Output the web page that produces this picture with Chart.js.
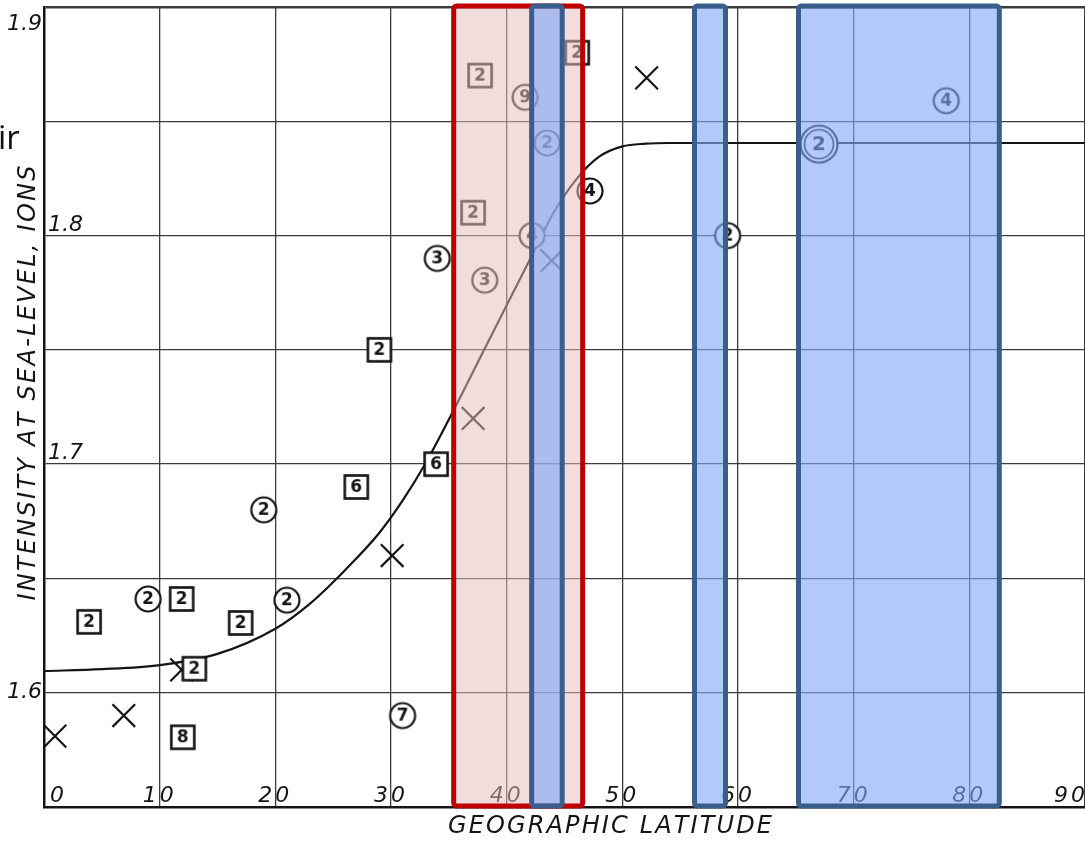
<!DOCTYPE html>
<html><head><meta charset="utf-8">
<script src="https://cdn.jsdelivr.net/npm/chart.js@4/dist/chart.umd.min.js"></script>
<style>html,body{margin:0;padding:0;background:#fff;overflow:hidden}#wrap{position:relative;width:1085px;height:842px}</style>
</head><body><div id="wrap"><canvas id="c"></canvas></div>
<script>
// ---- data ----
const xTicks = [0, 10, 20, 30, 40, 50, 60, 70, 80, 90];
const xTickLabels = ['0', '10', '20', '30', '40', '50', '60', '70', '80', '90'];
const yTicks = [1.6, 1.7, 1.8, 1.9];
const yTickLabels = ['1.6', '1.7', '1.8', '1.9'];

const curveLat = [0, 5, 10, 15, 20, 23, 26, 29, 31, 33, 35, 38, 40, 42, 44, 46, 48, 50, 52, 54, 60, 70, 80, 90];
const curveInt = [1.6095, 1.6103, 1.6121, 1.6170, 1.6280, 1.6390, 1.6535, 1.6700, 1.6840, 1.7005, 1.7195, 1.7495, 1.7695, 1.7895, 1.8095, 1.8245, 1.8345, 1.8390, 1.8402, 1.8405, 1.8405, 1.8405, 1.8405, 1.8405];

const squareLat = [3.9, 11.9, 17.0, 13.0, 12.0, 27.0, 33.9, 29.0, 37.7, 37.1, 46.1];
const squareInt = [1.631, 1.641, 1.6305, 1.6105, 1.5805, 1.690, 1.700, 1.750, 1.870, 1.810, 1.880];
const squareNum = ['2', '2', '2', '2', '8', '6', '6', '2', '2', '2', '2'];

const circleLat = [9.0, 19.0, 21.0, 31.0, 34.0, 38.1, 41.6, 43.5, 42.2, 47.2, 59.1, 78.0];
const circleInt = [1.641, 1.680, 1.6405, 1.590, 1.790, 1.7805, 1.8605, 1.8405, 1.800, 1.8195, 1.800, 1.859];
const circleNum = ['2', '2', '2', '7', '3', '3', '9', '2', '4', '4', '2', '4'];

const crossLat = [0.95, 6.9, 11.9, 30.1, 37.1, 43.9, 52.1];
const crossInt = [1.581, 1.590, 1.610, 1.660, 1.720, 1.789, 1.869];

const ringLat = [67.0];
const ringInt = [1.840];
const ringNum = ['2'];

const bandStart = [35.42, 42.16, 56.24, 65.23];
const bandEnd = [46.57, 44.8, 58.92, 82.59];
const bandKind = ['red', 'blue', 'blue', 'blue'];

const xTitle = 'GEOGRAPHIC LATITUDE';
const yTitle = 'INTENSITY AT SEA-LEVEL, IONS';
const stray = 'ir';

// ---- helpers ----
const INK = '#151515';
const HAND = "'DejaVu Sans', sans-serif";

function makeMarker(kind, txt) {
  const s = kind === 'ring' ? 44 : 32;
  const cv = document.createElement('canvas');
  cv.width = s; cv.height = s;
  const g = cv.getContext('2d');
  const c = s / 2;
  g.strokeStyle = INK; g.fillStyle = '#fff'; g.lineWidth = 2.2;
  if (kind === 'circle') {
    g.beginPath(); g.arc(c, c, 12.5, 0, Math.PI * 2); g.fill(); g.stroke();
  } else if (kind === 'square') {
    g.fillRect(c - 11.5, c - 11.5, 23, 23);
    g.lineWidth = 2.6; g.strokeRect(c - 11.5, c - 11.5, 23, 23);
  } else if (kind === 'ring') {
    g.beginPath(); g.arc(c, c, 18.5, 0, Math.PI * 2); g.fill(); g.stroke();
    g.lineWidth = 1.6;
    g.beginPath(); g.arc(c, c, 14.5, 0, Math.PI * 2); g.stroke();
  }
  g.fillStyle = INK;
  g.font = (kind === 'ring' ? 'bold 20px ' : 'bold 17px ') + HAND;
  g.textAlign = 'center'; g.textBaseline = 'middle';
  g.fillText(txt, c, c + 1);
  return cv;
}

function pts(xs, ys) { return xs.map((x, i) => ({ x: x, y: ys[i] })); }

function drawSpread(ctx, text, cx, cy, width, font, angle) {
  ctx.save();
  ctx.translate(cx, cy);
  if (angle) ctx.rotate(angle);
  ctx.font = font;
  ctx.fillStyle = INK;
  ctx.textBaseline = 'middle';
  ctx.textAlign = 'left';
  const chars = [...text];
  const ws = chars.map(ch => ctx.measureText(ch).width);
  const natural = ws.reduce((a, b) => a + b, 0);
  let sx = 1, gap = 0;
  if (natural > width) sx = width / natural;
  else gap = (width - natural) / (chars.length - 1);
  let x = -width / 2;
  chars.forEach((ch, i) => {
    ctx.save(); ctx.translate(x, 0); ctx.scale(sx, 1); ctx.fillText(ch, 0, 0); ctx.restore();
    x += ws[i] * sx + gap;
  });
  ctx.restore();
}

const overlayPlugin = {
  id: 'overlay',
  afterDatasetsDraw(chart) {
    const ctx = chart.ctx;
    const xs = chart.scales.x, ys = chart.scales.y;
    const area = chart.chartArea;
    // tick labels (under the bands)
    ctx.save();
    ctx.fillStyle = INK;
    ctx.font = 'italic 22px ' + HAND;
    ctx.textBaseline = 'alphabetic';
    if ('letterSpacing' in ctx) ctx.letterSpacing = '3px';
    xTicks.forEach((v, i) => {
      const px = xs.getPixelForValue(v);
      const lab = xTickLabels[i];
      if (i === 0) { ctx.textAlign = 'left'; ctx.fillText(lab, px + 6, area.bottom - 5); }
      else if (i === xTicks.length - 1) { ctx.textAlign = 'right'; ctx.fillText(lab, px + 3, area.bottom - 5); }
      else { ctx.textAlign = 'center'; ctx.fillText(lab, px, area.bottom - 5); }
    });
    if ('letterSpacing' in ctx) ctx.letterSpacing = '0px';
    ctx.font = 'italic 22px ' + HAND;
    yTicks.forEach((v, i) => {
      const py = ys.getPixelForValue(v);
      const lab = yTickLabels[i];
      const outside = (i === 0 || i === yTicks.length - 1);
      if (outside) {
        ctx.textAlign = 'right';
        ctx.fillText(lab, area.left - 2, i === 0 ? py + 5 : py + 23);
      } else {
        ctx.textAlign = 'left';
        ctx.fillText(lab, area.left + 4, py - 5);
      }
    });
    ctx.restore();

    // highlight bands
    ctx.save();
    bandStart.forEach((s, i) => {
      const x0 = xs.getPixelForValue(s), x1 = xs.getPixelForValue(bandEnd[i]);
      const y0 = area.top - 1, y1 = area.bottom - 1;
      const red = bandKind[i] === 'red';
      ctx.fillStyle = red ? 'rgba(230,188,188,0.52)' : 'rgba(129,168,248,0.62)';
      ctx.strokeStyle = red ? '#c00000' : '#3a5e8c';
      ctx.lineWidth = 5;
      ctx.beginPath();
      if (ctx.roundRect) ctx.roundRect(x0, y0, x1 - x0, y1 - y0, 3); else ctx.rect(x0, y0, x1 - x0, y1 - y0);
      ctx.fill();
      ctx.stroke();
    });
    ctx.restore();
  },
  afterDraw(chart) {
    const ctx = chart.ctx;
    drawSpread(ctx, xTitle, 610, 827, 324, 'italic 24px ' + HAND, 0);
    drawSpread(ctx, yTitle, 29, 383, 435, 'italic 24px ' + HAND, -Math.PI / 2);
    ctx.save();
    ctx.fillStyle = '#111';
    ctx.font = "33px 'Open Sans', sans-serif";
    ctx.textAlign = 'left'; ctx.textBaseline = 'alphabetic';
    ctx.fillText(stray, -2, 149);
    ctx.restore();
  }
};

const zeroFit = s => { if (s.isHorizontal()) s.height = 0; else s.width = 0; };

new Chart(document.getElementById('c'), {
  type: 'scatter',
  data: {
    datasets: [
      { label: 'curve', data: pts(curveLat, curveInt), showLine: true, borderColor: INK, borderWidth: 2.2,
        pointRadius: 0, cubicInterpolationMode: 'monotone', order: 10, fill: false },
      { label: 'crosses', data: pts(crossLat, crossInt), pointStyle: 'crossRot', pointRadius: 16,
        borderColor: INK, borderWidth: 2.2, backgroundColor: INK, order: 5, clip: false },
      { label: 'squares', data: pts(squareLat, squareInt),
        pointStyle: squareNum.map(n => makeMarker('square', n)), order: 2, clip: false },
      { label: 'circles', data: pts(circleLat, circleInt),
        pointStyle: circleNum.map(n => makeMarker('circle', n)), order: 2, clip: false },
      { label: 'rings', data: pts(ringLat, ringInt),
        pointStyle: ringNum.map(n => makeMarker('ring', n)), order: 1, clip: false }
    ]
  },
  options: {
    responsive: true, maintainAspectRatio: false, animation: false,
    layout: { autoPadding: false, padding: { left: 44, top: 7, right: 0, bottom: 35 } },
    plugins: { legend: { display: false }, tooltip: { enabled: false } },
    scales: {
      x: {
        type: 'linear', min: 0, max: 90,
        ticks: { display: false, stepSize: 10 },
        grid: { color: '#3c3c3c', lineWidth: 1.3, drawTicks: false },
        border: { display: true, color: INK, width: 2.5 },
        afterFit: zeroFit
      },
      y: {
        type: 'linear', min: 1.55, max: 1.9,
        ticks: { display: false, stepSize: 0.05 },
        grid: { color: '#3c3c3c', drawTicks: false,
          lineWidth: c => (c.tick && Math.abs(c.tick.value - 1.9) < 1e-6) ? 2.5 : 1.3 },
        border: { display: true, color: INK, width: 2.5 },
        afterFit: zeroFit
      }
    }
  },
  plugins: [overlayPlugin]
});
</script>
</body></html>
